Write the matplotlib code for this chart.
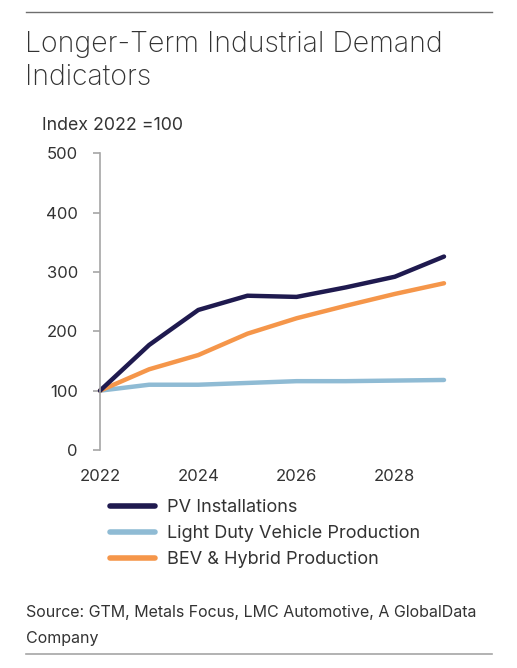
import matplotlib
matplotlib.use("Agg")
import matplotlib.pyplot as plt
from matplotlib.lines import Line2D

plt.rcParams['font.family'] = ['Inter', 'DejaVu Sans']

# Data
years = [2022, 2023, 2024, 2025, 2026, 2027, 2028, 2029]
pv_installations = [100, 177, 236, 260, 258, 274, 292, 326]
light_duty_vehicles = [100, 110, 110, 113, 116, 116, 117, 118]
bev_hybrid = [100, 136, 160, 196, 222, 243, 263, 281]
series_names = ["PV Installations", "Light Duty Vehicle Production", "BEV & Hybrid Production"]
yticks = [0, 100, 200, 300, 400, 500]
xticks = [2022, 2024, 2026, 2028]

col_pv = "#1f1a4f"
col_ldv = "#8fbbd4"
col_bev = "#f5964a"
txt = "#333333"

W, H = 517, 668
fig = plt.figure(figsize=(W/100, H/100), dpi=100)

def fx(px):
    return px / W

def fy(py):
    return 1 - py / H

ax = fig.add_axes([fx(100), fy(450), fx(444) - fx(100), fy(153.3) - fy(450)])
ax.plot(years, light_duty_vehicles, color=col_ldv, lw=3.2, solid_capstyle='round', clip_on=False)
ax.plot(years, bev_hybrid, color=col_bev, lw=3.2, solid_capstyle='round', clip_on=False)
ax.plot(years, pv_installations, color=col_pv, lw=3.2, solid_capstyle='round', clip_on=False)

ax.set_xlim(2022, 2029)
ax.set_ylim(0, 500)
ax.set_yticks(yticks)
ax.set_xticks(xticks)
for s in ["top", "right", "bottom"]:
    ax.spines[s].set_visible(False)
ax.spines["left"].set_color("#a6a6a6")
ax.spines["left"].set_linewidth(1.2)
ax.tick_params(axis="y", length=5, width=1.2, color="#a6a6a6", pad=11, labelsize=12, labelcolor=txt)
ax.tick_params(axis="x", length=0, pad=14, labelsize=12, labelcolor=txt)

# Rules, title, notes
fig.add_artist(Line2D([fx(26), fx(492)], [fy(12), fy(12)], color="#6e6e6e", lw=1.0))
fig.add_artist(Line2D([fx(26), fx(492)], [fy(654), fy(654)], color="#a6a6a6", lw=1.2))
fig.text(fx(25), fy(45), "Longer-Term Industrial Demand", fontsize=20.5, fontweight="light",
         color=txt, va="center", ha="left")
fig.text(fx(25), fy(77), "Indicators", fontsize=20.5, fontweight="light",
         color=txt, va="center", ha="left")
fig.text(fx(42), fy(125), "Index 2022 =100", fontsize=12.8, color=txt, va="center", ha="left")
fig.text(fx(26), fy(613), "Source: GTM, Metals Focus, LMC Automotive, A GlobalData", fontsize=11.5,
         color=txt, va="center", ha="left")
fig.text(fx(26), fy(638), "Company", fontsize=11.5, color=txt, va="center", ha="left")

handles = [Line2D([], [], color=c, lw=4, solid_capstyle='round') for c in (col_pv, col_ldv, col_bev)]
leg = fig.legend(handles, series_names, loc="upper left", bbox_to_anchor=(fx(110), fy(499)),
                 frameon=False, fontsize=13, handlelength=2.5, handletextpad=0.65,
                 labelspacing=0.5, borderaxespad=0, borderpad=0)
for t in leg.get_texts():
    t.set_color(txt)

fig.savefig("out.png", dpi=100)
